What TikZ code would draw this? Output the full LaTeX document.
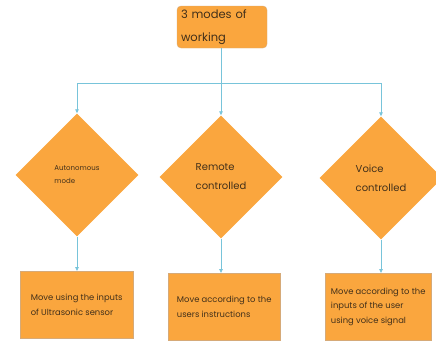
\documentclass[tikz,border=0pt]{standalone}
\usepackage{fontspec}
\setmainfont{Poppins}
\usetikzlibrary{shapes.geometric}
\usetikzlibrary{arrows.meta}

\definecolor{boxorange}{RGB}{250,166,62}
\definecolor{boxedge}{RGB}{214,170,120}
\definecolor{linkblue}{RGB}{120,196,218}
\definecolor{inktext}{RGB}{66,48,26}

\begin{document}
\begin{tikzpicture}[x=1pt, y=-1pt,
    headbox/.style={draw=boxedge, fill=boxorange, rounded corners=4pt, minimum width=90pt, minimum height=42pt,
        text width=82pt, align=left, text=inktext, font=\fontsize{11.5}{23}\selectfont, inner sep=3pt},
    modebox/.style={diamond, aspect=1, fill=boxorange, minimum size=123pt, inner sep=0pt, text=inktext, align=left},
    taskbox/.style={draw=boxedge, fill=boxorange, minimum height=67pt, text=inktext, align=left,
        font=\fontsize{8.4}{14.5}\selectfont, inner xsep=4pt, inner ysep=5pt, anchor=north west},
    link/.style={draw=linkblue, line width=0.8pt},
    linkarrow/.style={link, -{Triangle[length=4pt, width=3.5pt]}}]
    \useasboundingbox (0,0) rectangle (436,340);

    % top of the chart
    \node[headbox] (head) at (222,27) {3 modes of\\working};
    \coordinate (split) at (221,83);

    % the three modes
    \node[modebox, font=\fontsize{7}{13}\selectfont] (auto) at (77,175) {Autonomous\\mode};
    \node[modebox, font=\fontsize{10}{19}\selectfont] (remote) at (221,177) {Remote\\controlled};
    \node[modebox, font=\fontsize{10}{19}\selectfont] (voice) at (381,178) {Voice\\controlled};

    % what each mode does
    \node[taskbox, minimum width=113pt] (ultra) at (20,271) {Move using the inputs\\of Ultrasonic sensor};
    \node[taskbox, minimum width=112pt] (users) at (168,273) {Move according to the\\users instructions};
    \node[taskbox, minimum width=106pt] (signal) at (325,273) {Move according to the\\inputs of the user\\using voice signal};

    % connectors
    \draw[link] (head.south -| split) -- (split);
    \draw[linkarrow] (split) -| (auto.north);
    \draw[linkarrow] (split) -- (remote.north);
    \draw[linkarrow] (split) -| (voice.north);
    \draw[linkarrow] (auto.south) -- (auto.south |- ultra.north);
    \draw[linkarrow] (remote.south) -- (remote.south |- users.north);
    \draw[linkarrow] (voice.south) -- (voice.south |- signal.north);
\end{tikzpicture}
\end{document}
